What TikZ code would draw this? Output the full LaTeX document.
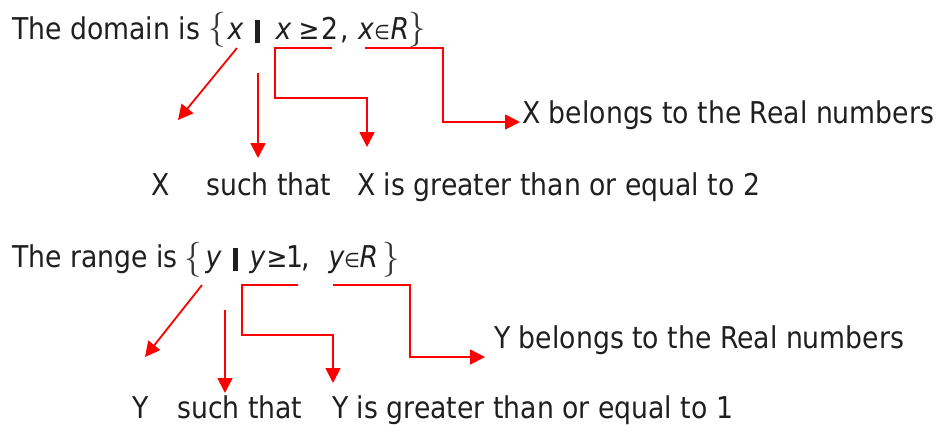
\documentclass[tikz,border=0pt]{standalone}
\usepackage{fontspec}
\setmainfont{DejaVu Sans}[FakeStretch=0.89, ItalicFont={DejaVu Sans Oblique}, BoldFont={DejaVu Sans Bold}]
\usetikzlibrary{arrows.meta}
\tikzset{
 txt/.style={anchor=base west, inner sep=0pt, font=\fontsize{30}{36}\selectfont, text=black!88},
 tok/.style={anchor=base, inner sep=0pt, font=\fontsize{30}{36}\selectfont, text=black!88},
 itok/.style={tok, font=\fontsize{30}{36}\selectfont\itshape},
 smalltok/.style={tok, font=\fontsize{20}{20}\selectfont},
 brc/.style={inner sep=0pt, text=black!80},
 barnode/.style={inner sep=0pt, text=black!88},
 redarrow/.style={draw=red, line width=1.8pt, -{Triangle[length=15pt,width=15pt]}},
}
\newcommand{\lbr}{\resizebox*{!}{35pt}{$\{$}}
\newcommand{\rbr}{\resizebox*{!}{35pt}{$\}$}}
\newcommand{\vbar}{\rule{4.5pt}{23pt}}
\begin{document}
\begin{tikzpicture}[x=1pt,y=-1pt]
\useasboundingbox (0,0) rectangle (940,424);
% ---------- domain ----------
\node[txt] (dom) at (12,39) {The domain is};
\node[brc] (lb1) at (217.5,29.5) {\lbr};
\node[itok] (x1) at (235.5,39) {x};
\node[barnode] (bar1) at (257.5,31.5) {\vbar};
\node[itok] (x2) at (283.5,39) {x};
\node[tok, font=\fontsize{28}{28}\selectfont] (ge1) at (309,39) {≥};
\node[tok] (n2) at (330,39) {2};
\node[tok] (cm1) at (345,39) {,};
\node[itok] (x3) at (366,39) {x};
\node[smalltok] (in1) at (382,39) {∈};
\node[itok] (R1) at (400,39) {R};
\node[brc] (rb1) at (417.5,30) {\rbr};

\node[txt] (lX) at (151,195) {X};
\node[txt] (lsuch1) at (206,195) {such that};
\node[txt] (lge1) at (357,195) {X is greater than or equal to 2};
\node[txt] (lreal1) at (522,123) {X belongs to the Real numbers};

\coordinate (a1s) at (237,48);  \coordinate (a1e) at (178,120);
\coordinate (a2s) at (258,73);  \coordinate (a2e) at (258,158);
\coordinate (a3s) at (332,48);  \coordinate (a3a) at (275,48);
\coordinate (a3b) at (275,98);  \coordinate (a3c) at (367,98);
\coordinate (a3e) at (367,147);
\coordinate (a4s) at (365,48);  \coordinate (a4a) at (443,48);
\coordinate (a4b) at (443,122); \coordinate (a4e) at (520,122);

\draw[redarrow] (a1s) -- (a1e);
\draw[redarrow] (a2s) -- (a2e);
\draw[redarrow] (a3s) -- (a3a) -- (a3b) -- (a3c) -- (a3e);
\draw[redarrow] (a4s) -- (a4a) -- (a4b) -- (a4e);

% ---------- range ----------
\node[txt] (rng) at (12,267) {The range is};
\node[brc] (lb2) at (193,259.5) {\lbr};
\node[itok] (y1) at (213.5,267) {y};
\node[barnode] (bar2) at (235.5,259) {\vbar};
\node[itok] (y2) at (257.5,267) {y};
\node[tok, font=\fontsize{28}{28}\selectfont] (ge2) at (277,267) {≥};
\node[tok] (n1) at (295,267) {1};
\node[tok] (cm2) at (306,267) {,};
\node[itok] (y3) at (336.5,267) {y};
\node[smalltok] (in2) at (352,267) {∈};
\node[itok] (R2) at (369,267) {R};
\node[brc] (rb2) at (391,260) {\rbr};

\node[txt] (lY) at (132,418) {Y};
\node[txt] (lsuch2) at (177,418) {such that};
\node[txt] (lge2) at (332,418) {Y is greater than or equal to 1};
\node[txt] (lreal2) at (494,348) {Y belongs to the Real numbers};

\coordinate (b1s) at (202,285); \coordinate (b1e) at (145,357);
\coordinate (b2s) at (225,310); \coordinate (b2e) at (225,393);
\coordinate (b3s) at (298,285); \coordinate (b3a) at (242,285);
\coordinate (b3b) at (242,335); \coordinate (b3c) at (333,335);
\coordinate (b3e) at (333,383);
\coordinate (b4s) at (333,285); \coordinate (b4a) at (410,285);
\coordinate (b4b) at (410,357); \coordinate (b4e) at (485,357);

\draw[redarrow] (b1s) -- (b1e);
\draw[redarrow] (b2s) -- (b2e);
\draw[redarrow] (b3s) -- (b3a) -- (b3b) -- (b3c) -- (b3e);
\draw[redarrow] (b4s) -- (b4a) -- (b4b) -- (b4e);
\end{tikzpicture}
\end{document}
